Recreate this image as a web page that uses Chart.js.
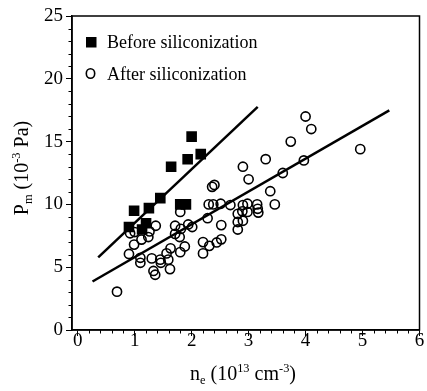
<!DOCTYPE html>
<html>
<head>
<meta charset="utf-8">
<script src="https://cdn.jsdelivr.net/npm/chart.js@4.4.1/dist/chart.umd.min.js"></script>
<style>
  html, body { margin: 0; padding: 0; background: #fff; }
  #wrap { width: 427px; height: 391px; position: relative; }
</style>
</head>
<body>
<div id="wrap"><canvas id="pmChart"></canvas></div>
<script>
// Before siliconization (filled squares)
const beforeX = [0.90, 0.99, 1.13, 1.20, 1.25, 1.45, 1.64, 1.80, 1.90, 1.93, 2.00, 2.16];
const beforeY = [8.2, 9.5, 8.0, 8.5, 9.7, 10.5, 13.0, 10.0, 10.0, 13.6, 15.4, 14.0];

// After siliconization (open circles)
const afterX = [0.69, 0.90, 0.92, 1.00, 0.99, 1.12, 1.10, 1.10, 1.24, 1.26, 1.37, 1.30, 1.33, 1.36,
                1.45, 1.46, 1.56, 1.59, 1.63, 1.62, 1.71, 1.71, 1.79, 1.80, 1.88, 1.80, 1.81, 1.94,
                2.01, 2.20, 2.20, 2.31, 2.44, 2.52, 2.28, 2.52, 2.30, 2.38, 2.51, 2.68, 2.36, 2.40,
                2.81, 2.89, 2.81, 2.90, 2.81, 2.90, 2.98, 2.98, 3.15, 3.16, 3.17, 3.46, 3.38, 2.90,
                3.00, 3.30, 3.60, 3.74, 3.97, 4.00, 4.10, 4.96];
const afterY = [3.05, 6.05, 7.70, 7.80, 6.80, 7.20, 5.75, 5.35, 7.40, 7.85, 8.30, 5.70, 4.70, 4.40,
                5.60, 5.35, 6.10, 5.60, 6.50, 4.85, 8.30, 7.65, 7.40, 6.20, 6.65, 9.40, 8.05, 8.40,
                8.20, 7.00, 6.10, 6.70, 6.97, 7.22, 8.90, 8.35, 10.0, 10.0, 10.05, 9.95, 11.40, 11.55,
                9.25, 9.45, 8.60, 8.70, 8.00, 9.95, 10.05, 9.40, 10.0, 9.65, 9.35, 10.0, 11.05, 13.0,
                12.0, 13.6, 12.5, 15.0, 13.5, 17.0, 16.0, 14.4];

// linear fits (end points)
const beforeFitX = [0.36, 3.16];
const beforeFitY = [5.78, 17.76];
const afterFitX = [0.26, 5.47];
const afterFitY = [3.86, 17.49];

const xTickVals = [0, 1, 2, 3, 4, 5, 6];
const yTickVals = [0, 5, 10, 15, 20, 25];
const legendLabels = ['Before siliconization', 'After siliconization'];

const SERIF = '"Liberation Serif", "Times New Roman", serif';

const toPoints = (xs, ys) => xs.map((x, i) => ({ x: x, y: ys[i] }));

// draws text made of normal / sub / superscript pieces
function richWidth(ctx, parts, size) {
    let w = 0;
    parts.forEach(p => {
        ctx.font = (p.s ? size * 0.62 : size) + 'px ' + SERIF;
        w += ctx.measureText(p.t).width;
    });
    return w;
}
function drawRich(ctx, parts, x, y, size) {
    let cx = x;
    parts.forEach(p => {
        const fs = p.s ? size * 0.62 : size;
        ctx.font = fs + 'px ' + SERIF;
        let dy = 0;
        if (p.s === 'sub') dy = size * 0.22;
        if (p.s === 'sup') dy = -size * 0.4;
        ctx.fillText(p.t, cx, y + dy);
        cx += ctx.measureText(p.t).width;
    });
}

const extrasPlugin = {
    id: 'extras',
    afterDraw(chart) {
        const ctx = chart.ctx;
        const a = chart.chartArea;
        const xs = chart.scales.x;
        const ys = chart.scales.y;
        ctx.save();
        ctx.strokeStyle = '#000';
        ctx.fillStyle = '#000';

        // frame
        ctx.lineWidth = 1.5;
        ctx.strokeRect(a.left, a.top, a.right - a.left, a.bottom - a.top);

        // minor ticks
        ctx.lineWidth = 1;
        ctx.beginPath();
        for (let v = 1; v < 25; v++) {
            if (v % 5 === 0) continue;
            const py = Math.round(ys.getPixelForValue(v)) + 0.5;
            ctx.moveTo(a.left, py);
            ctx.lineTo(a.left - 3.5, py);
        }
        for (let k = 1; k < 30; k++) {
            if (k % 5 === 0) continue;
            const px = Math.round(xs.getPixelForValue(k / 5)) + 0.5;
            ctx.moveTo(px, a.bottom);
            ctx.lineTo(px, a.bottom + 3.5);
        }
        ctx.stroke();

        // legend
        ctx.fillRect(86, 37, 10.5, 10.5);
        ctx.lineWidth = 1.6;
        ctx.beginPath();
        ctx.ellipse(90.5, 73.5, 4.2, 4.8, 0, 0, Math.PI * 2);
        ctx.stroke();
        ctx.font = '18px ' + SERIF;
        ctx.textBaseline = 'alphabetic';
        ctx.textAlign = 'left';
        ctx.fillText(legendLabels[0], 107, 48);
        ctx.fillText(legendLabels[1], 107, 80);

        // x axis title
        const xParts = [{ t: 'n' }, { t: 'e', s: 'sub' }, { t: ' (10' }, { t: '13', s: 'sup' },
                        { t: ' cm' }, { t: '-3', s: 'sup' }, { t: ')' }];
        const xw = richWidth(ctx, xParts, 20);
        drawRich(ctx, xParts, 243 - xw / 2, 380, 20);

        // y axis title
        const yParts = [{ t: 'P' }, { t: 'm', s: 'sub' }, { t: ' (10' }, { t: '-3', s: 'sup' },
                        { t: ' Pa)' }];
        const yw = richWidth(ctx, yParts, 20);
        ctx.translate(28, 168);
        ctx.rotate(-Math.PI / 2);
        drawRich(ctx, yParts, -yw / 2, 0, 20);
        ctx.restore();
    }
};

const ctx = document.getElementById('pmChart').getContext('2d');
new Chart(ctx, {
    data: {
        datasets: [
            {
                type: 'line',
                label: 'fit before',
                data: toPoints(beforeFitX, beforeFitY),
                borderColor: '#000',
                borderWidth: 2.5,
                pointRadius: 0,
                fill: false
            },
            {
                type: 'line',
                label: 'fit after',
                data: toPoints(afterFitX, afterFitY),
                borderColor: '#000',
                borderWidth: 2.5,
                pointRadius: 0,
                fill: false
            },
            {
                type: 'scatter',
                label: legendLabels[1],
                data: toPoints(afterX, afterY),
                pointStyle: 'circle',
                pointRadius: 4.6,
                borderWidth: 1.6,
                borderColor: '#000',
                backgroundColor: 'rgba(0,0,0,0)'
            },
            {
                type: 'scatter',
                label: legendLabels[0],
                data: toPoints(beforeX, beforeY),
                pointStyle: 'rect',
                pointRadius: 7.5,
                borderWidth: 0,
                borderColor: '#000',
                backgroundColor: '#000'
            }
        ]
    },
    options: {
        responsive: true,
        maintainAspectRatio: false,
        animation: false,
        layout: { padding: { top: 16, right: 4, left: 0, bottom: 0 } },
        plugins: {
            legend: { display: false },
            tooltip: { enabled: false }
        },
        scales: {
            x: {
                type: 'linear',
                min: -0.1,
                max: 6,
                afterBuildTicks: scale => { scale.ticks = xTickVals.map(v => ({ value: v })); },
                afterFit: scale => {
                    scale.height = 61;
                    scale.paddingLeft = 0;
                    scale.paddingRight = 0;
                },
                grid: { display: true, drawOnChartArea: false, tickLength: 6, tickColor: '#000', tickWidth: 1 },
                border: { display: true, color: '#000', width: 1.5 },
                ticks: { color: '#000', padding: -6, maxRotation: 0, font: { family: SERIF, size: 19 } }
            },
            y: {
                type: 'linear',
                min: 0,
                max: 25,
                afterBuildTicks: scale => { scale.ticks = yTickVals.map(v => ({ value: v })); },
                afterFit: scale => {
                    scale.width = 72;
                    scale.paddingTop = 0;
                    scale.paddingBottom = 0;
                },
                grid: { display: true, drawOnChartArea: false, tickLength: 6, tickColor: '#000', tickWidth: 1 },
                border: { display: true, color: '#000', width: 1.5 },
                ticks: { color: '#000', padding: 3, font: { family: SERIF, size: 19 } }
            }
        }
    },
    plugins: [extrasPlugin]
});
</script>
</body>
</html>
